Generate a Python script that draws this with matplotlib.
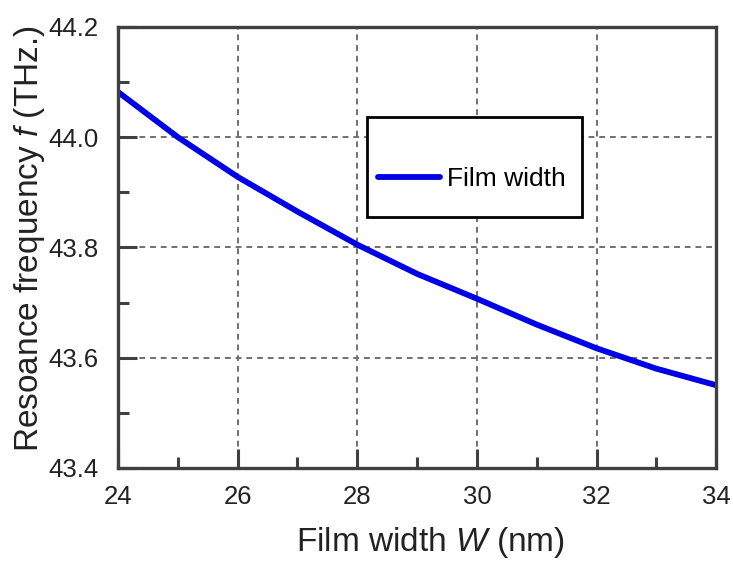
import matplotlib
matplotlib.use("Agg")
import matplotlib.pyplot as plt
from matplotlib.patches import Rectangle
from matplotlib.ticker import MultipleLocator

# Данные
width_nm = [24, 25, 26, 27, 28, 29, 30, 31, 32, 33, 34]
freq_thz = [44.082, 44.000, 43.928, 43.865, 43.805, 43.752, 43.707, 43.660, 43.617, 43.580, 43.550]

plt.rcParams["font.family"] = "Liberation Sans"
plt.rcParams["mathtext.fontset"] = "custom"
plt.rcParams["mathtext.rm"] = "Liberation Sans"
plt.rcParams["mathtext.it"] = "Liberation Sans:italic"

spine_color = "#404040"
text_color = "#222222"

fig = plt.figure(figsize=(7.33, 5.61), dpi=100)
ax = fig.add_axes([0.161, 0.166, 0.816, 0.786])

ax.plot(width_nm, freq_thz, color="#0000E6", linewidth=4.2, label="Film width",
        solid_joinstyle="round", solid_capstyle="round")

ax.set_xlim(24, 34)
ax.set_ylim(43.4, 44.2)
ax.xaxis.set_major_locator(MultipleLocator(2))
ax.xaxis.set_minor_locator(MultipleLocator(1))
ax.yaxis.set_major_locator(MultipleLocator(0.2))
ax.yaxis.set_minor_locator(MultipleLocator(0.1))
ax.set_yticklabels([f"{v:.1f}" for v in ax.get_yticks()])

ax.grid(True, which="major", linestyle=(0, (3, 2.5)), color="#707070", linewidth=1.4)

for side in ax.spines.values():
    side.set_color(spine_color)
    side.set_linewidth(2.4)

ax.tick_params(which="both", direction="in", color=spine_color, width=2.2,
               labelsize=18.5, labelcolor=text_color)
ax.tick_params(which="major", length=14)
ax.tick_params(which="minor", length=8)
ax.tick_params(axis="x", which="major", pad=12)
ax.tick_params(axis="y", which="major", pad=14)

ax.set_xlabel("Film width $W$ (nm)", fontsize=24, color=text_color, labelpad=12)
ax.set_ylabel("Resoance frequency $f$ (THz.)", fontsize=24, color=text_color, labelpad=1)
ax.xaxis.label.set_x(0.523)
ax.yaxis.label.set_y(0.52)

# Рамка легенды отдельно: в оригинале большие вертикальные поля
ax.add_patch(Rectangle((0.4164, 0.569), 0.3595, 0.227, transform=ax.transAxes,
                       facecolor="white", edgecolor="black", linewidth=2, zorder=4))
leg = ax.legend(loc="center left", bbox_to_anchor=(0.435, 0.655), borderaxespad=0,
                fontsize=19, frameon=False, handlelength=2.35, borderpad=0,
                handletextpad=0.27)
leg.set_zorder(5)

fig.savefig("out.png", dpi=100)
